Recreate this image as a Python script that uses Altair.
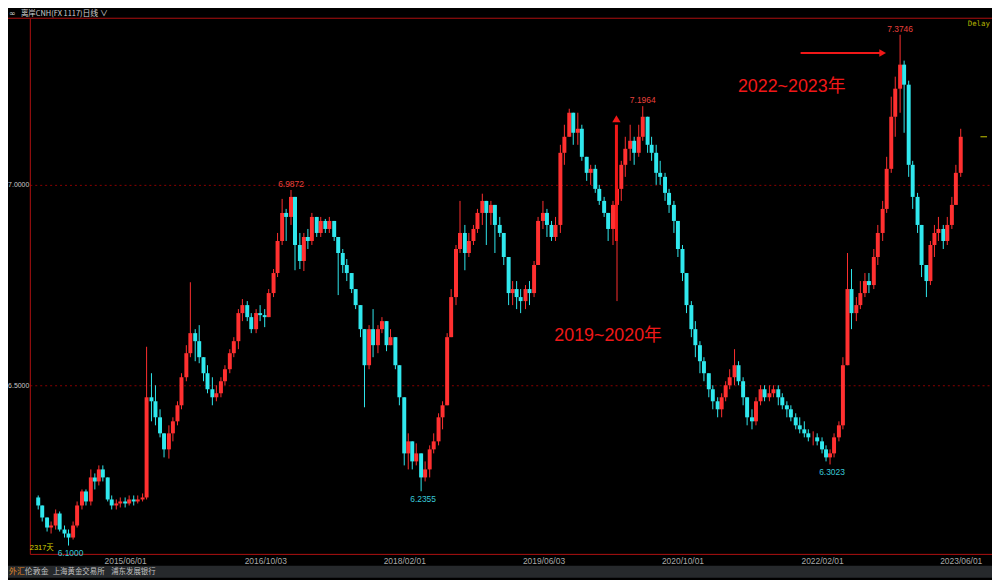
import altair as alt
import pandas as pd

# ---------------- data (half-month candles) ----------------
start_date = "2014-08-01"
first_open = 6.22

close = [6.20, 6.17, 6.145, 6.15, 6.18, 6.14, 6.13, 6.12, 6.15, 6.20,
         6.235, 6.21, 6.27, 6.26, 6.29, 6.27, 6.215, 6.20, 6.205, 6.21,
         6.205, 6.215, 6.21, 6.215, 6.22, 6.47, 6.46, 6.42, 6.38, 6.34,
         6.38, 6.41, 6.45, 6.52, 6.58, 6.63, 6.61, 6.57, 6.53, 6.49,
         6.47, 6.48, 6.51, 6.54, 6.58, 6.61, 6.68, 6.70, 6.67, 6.64,
         6.68, 6.675, 6.67, 6.73, 6.78, 6.86, 6.93, 6.92, 6.97, 6.85,
         6.81, 6.87, 6.86, 6.92, 6.88, 6.91, 6.89, 6.91, 6.87, 6.83,
         6.80, 6.78, 6.74, 6.70, 6.64, 6.55, 6.64, 6.60, 6.64, 6.66,
         6.60, 6.62, 6.55, 6.47, 6.33, 6.36, 6.31, 6.33, 6.27, 6.29,
         6.34, 6.36, 6.42, 6.45, 6.62, 6.72, 6.84, 6.88, 6.83, 6.86,
         6.89, 6.93, 6.96, 6.93, 6.95, 6.90, 6.88, 6.82, 6.73, 6.74,
         6.72, 6.71, 6.74, 6.73, 6.80, 6.91, 6.93, 6.90, 6.87, 6.90,
         7.08, 7.12, 7.18, 7.13, 7.14, 7.07, 7.03, 7.04, 6.99, 6.96,
         6.93, 6.89, 6.95, 6.99, 7.05, 7.09, 7.11, 7.08, 7.12, 7.17,
         7.10, 7.08, 7.03, 7.02, 6.98, 6.95, 6.91, 6.84, 6.78, 6.70,
         6.64, 6.60, 6.56, 6.53, 6.49, 6.46, 6.44, 6.47, 6.50, 6.52,
         6.55, 6.51, 6.47, 6.42, 6.41, 6.46, 6.49, 6.47, 6.48, 6.49,
         6.47, 6.45, 6.44, 6.42, 6.40, 6.39, 6.38, 6.37, 6.37, 6.36,
         6.34, 6.32, 6.33, 6.37, 6.40, 6.55, 6.74, 6.68, 6.70, 6.73,
         6.76, 6.75, 6.82, 6.88, 6.94, 7.04, 7.17, 7.24, 7.30, 7.25,
         7.05, 6.97, 6.90, 6.80, 6.76, 6.85, 6.88, 6.89, 6.86, 6.90,
         6.95, 7.03, 7.12]

high = [6.225, 6.20, 6.17, 6.16, 6.19, 6.185, 6.15, 6.14, 6.16, 6.21,
        6.24, 6.24, 6.29, 6.28, 6.30, 6.30, 6.27, 6.225, 6.215, 6.22,
        6.22, 6.225, 6.225, 6.225, 6.23, 6.596, 6.53, 6.50, 6.44, 6.38,
        6.40, 6.42, 6.46, 6.53, 6.60, 6.757, 6.64, 6.65, 6.57, 6.55,
        6.52, 6.50, 6.52, 6.55, 6.59, 6.62, 6.69, 6.715, 6.71, 6.68,
        6.69, 6.70, 6.69, 6.74, 6.79, 6.88, 6.965, 6.94, 6.9872, 6.97,
        6.88, 6.88, 6.89, 6.93, 6.92, 6.92, 6.915, 6.92, 6.91, 6.87,
        6.84, 6.815, 6.78, 6.74, 6.70, 6.64, 6.65, 6.69, 6.65, 6.67,
        6.66, 6.64, 6.62, 6.55, 6.47, 6.38, 6.36, 6.355, 6.33, 6.31,
        6.35, 6.38, 6.43, 6.46, 6.63, 6.74, 6.85, 6.96, 6.90, 6.88,
        6.90, 6.94, 6.978, 6.96, 6.96, 6.95, 6.92, 6.88, 6.82, 6.76,
        6.76, 6.74, 6.75, 6.76, 6.81, 6.92, 6.96, 6.94, 6.91, 6.92,
        7.10, 7.15, 7.19, 7.17, 7.18, 7.15, 7.07, 7.05, 7.05, 7.00,
        6.97, 6.93, 6.96, 7.00, 7.06, 7.12, 7.15, 7.12, 7.15, 7.1964,
        7.15, 7.12, 7.10, 7.06, 7.03, 6.99, 6.96, 6.90, 6.85, 6.78,
        6.71, 6.66, 6.61, 6.57, 6.53, 6.50, 6.47, 6.48, 6.51, 6.54,
        6.59, 6.56, 6.52, 6.47, 6.44, 6.47, 6.50, 6.50, 6.50, 6.50,
        6.50, 6.48, 6.46, 6.45, 6.43, 6.42, 6.41, 6.39, 6.385, 6.38,
        6.37, 6.35, 6.34, 6.38, 6.41, 6.57, 6.83, 6.79, 6.72, 6.76,
        6.78, 6.78, 6.84, 6.90, 6.96, 7.07, 7.22, 7.27, 7.3746, 7.31,
        7.26, 7.06, 6.98, 6.90, 6.80, 6.86, 6.90, 6.92, 6.90, 6.92,
        6.97, 7.05, 7.14]

low = [6.19, 6.16, 6.135, 6.13, 6.14, 6.135, 6.12, 6.10, 6.115, 6.145,
       6.19, 6.20, 6.20, 6.24, 6.25, 6.26, 6.21, 6.19, 6.19, 6.195,
       6.195, 6.20, 6.20, 6.205, 6.21, 6.215, 6.41, 6.40, 6.37, 6.32,
       6.317, 6.36, 6.40, 6.44, 6.51, 6.57, 6.56, 6.555, 6.51, 6.48,
       6.45, 6.46, 6.47, 6.50, 6.53, 6.57, 6.59, 6.66, 6.66, 6.63,
       6.63, 6.66, 6.645, 6.67, 6.72, 6.77, 6.85, 6.86, 6.90, 6.787,
       6.79, 6.785, 6.84, 6.85, 6.87, 6.87, 6.88, 6.88, 6.86, 6.725,
       6.78, 6.76, 6.73, 6.69, 6.62, 6.445, 6.54, 6.57, 6.58, 6.63,
       6.585, 6.60, 6.54, 6.45, 6.30, 6.29, 6.29, 6.30, 6.2355, 6.26,
       6.27, 6.33, 6.35, 6.39, 6.45, 6.62, 6.70, 6.83, 6.787, 6.82,
       6.85, 6.88, 6.90, 6.85, 6.90, 6.83, 6.87, 6.80, 6.70, 6.70,
       6.69, 6.68, 6.69, 6.70, 6.72, 6.80, 6.89, 6.87, 6.86, 6.86,
       6.88, 7.05, 7.12, 7.10, 7.10, 7.06, 7.01, 7.00, 6.98, 6.95,
       6.92, 6.86, 6.85, 6.71, 6.96, 7.02, 7.06, 7.05, 7.07, 7.11,
       7.08, 7.06, 7.00, 7.00, 6.96, 6.93, 6.88, 6.82, 6.76, 6.68,
       6.62, 6.57, 6.53, 6.51, 6.47, 6.44, 6.42, 6.42, 6.46, 6.49,
       6.50, 6.50, 6.45, 6.40, 6.39, 6.40, 6.45, 6.46, 6.46, 6.47,
       6.45, 6.44, 6.42, 6.41, 6.39, 6.38, 6.37, 6.36, 6.35, 6.35,
       6.33, 6.31, 6.3023, 6.32, 6.36, 6.39, 6.55, 6.64, 6.66, 6.69,
       6.72, 6.73, 6.74, 6.80, 6.86, 6.93, 7.03, 7.12, 7.18, 7.13,
       7.02, 6.94, 6.88, 6.77, 6.72, 6.75, 6.82, 6.86, 6.84, 6.85,
       6.89, 6.95, 7.02]

tick_dates = [(2015, 6, 1), (2016, 10, 3), (2018, 2, 1), (2019, 6, 3),
              (2020, 10, 1), (2022, 2, 1), (2023, 6, 1)]
y_ticks = [6.5, 7.0]
x_domain = [(2014, 7, 20), (2023, 9, 1)]
y_domain = [6.0792, 7.4158]

peak_idx = [58, 139, 198]
trough_idx = [7, 88, 182]

up_arrow_date = "2020-02-13"
up_arrow_from = 6.86
up_arrow_to = 7.15
up_arrow_tip = 7.165

right_arrow_from = "2021-11-18"
right_arrow_to = "2022-09-01"
right_arrow_y = 7.329

notes_text = ["2019~2020年", "2022~2023年"]
notes_date = ["2020-01-15", "2021-10-18"]
notes_y = [6.624, 7.245]

price_mark_dates = ["2023-08-09", "2023-09-01"]

# ---------------- colours ----------------
RED = "#ff3030"
CYAN = "#30e8ee"
FRAME = "#b01010"
ANNOT = "#f01818"
YELLOW = "#d4d400"

# ---------------- tables ----------------
dates = pd.date_range(start_date, periods=len(close), freq="SMS").strftime("%Y-%m-%d").tolist()
opens = [first_open] + close[:-1]
df = pd.DataFrame({"date": dates, "open": opens, "close": close, "high": high, "low": low})
df["high"] = df[["high", "open", "close"]].max(axis=1)
df["low"] = df[["low", "open", "close"]].min(axis=1)
df["dir"] = ["up" if c >= o else "down" for o, c in zip(opens, close)]

peaks = pd.DataFrame({"date": [dates[i] for i in peak_idx], "value": [high[i] for i in peak_idx]})
peaks["label"] = [f"{v:.4f}" for v in peaks["value"]]
troughs = pd.DataFrame({"date": [dates[i] for i in trough_idx], "value": [low[i] for i in trough_idx]})
troughs["label"] = [f"{v:.4f}" for v in troughs["value"]]

def dt(t):
    return alt.DateTime(year=t[0], month=t[1], date=t[2], utc=True)

xscale = alt.Scale(type="utc", domain=[dt(x_domain[0]), dt(x_domain[1])], nice=False)
yscale = alt.Scale(domain=y_domain, nice=False, zero=False)
xaxis = alt.Axis(values=[dt(t) for t in tick_dates], format="%Y/%m/%d", title=None,
                 grid=False, ticks=False, domainColor=FRAME, labelColor="#a8a8a8",
                 labelFont="Liberation Sans", labelFontSize=8.5, labelPadding=3,
                 labelOverlap=False, labelFlush=False)
yaxis = alt.Axis(values=y_ticks, format=".4f", title=None, grid=True, gridColor="#8a0000",
                 gridDash=[2, 3], gridWidth=1, ticks=False, domainColor=FRAME,
                 labelColor="#c8c8c8", labelFont="Liberation Sans", labelFontSize=7,
                 labelPadding=1)

def X(field, **kw):
    return alt.X(field, type="temporal", scale=xscale, axis=xaxis, title=None, **kw)

def Y(field, **kw):
    return alt.Y(field, type="quantitative", scale=yscale, axis=yaxis, title=None, **kw)

color = alt.Color("dir:N", scale=alt.Scale(domain=["up", "down"], range=[RED, CYAN]), legend=None)

base = alt.Chart(df)
wicks = base.mark_rule(strokeWidth=1).encode(x=X("date"), y=Y("low"), y2="high", color=color)
bodies = base.mark_bar(width=4).encode(x=X("date"), y=Y("open"), y2="close", color=color)

peak_lbl = alt.Chart(peaks).mark_text(color="#e8403c", font="Liberation Sans", fontSize=8.5,
                                      baseline="bottom", dy=-1).encode(
    x=X("date"), y=Y("value"), text="label:N")
trough_lbl = alt.Chart(troughs).mark_text(color="#38c8d8", font="Liberation Sans", fontSize=8.5,
                                          baseline="middle", dy=8, dx=2).encode(
    x=X("date"), y=Y("value"), text="label:N")

va = pd.DataFrame({"date": [up_arrow_date], "y1": [up_arrow_from], "y2": [up_arrow_to], "tip": [up_arrow_tip]})
v_shaft = alt.Chart(va).mark_rule(color=ANNOT, strokeWidth=3).encode(x=X("date"), y=Y("y1"), y2="y2")
v_head = alt.Chart(va).mark_point(shape="triangle-up", filled=True, size=70, color=ANNOT,
                                  opacity=1).encode(x=X("date"), y=Y("tip"))

ha = pd.DataFrame({"d1": [right_arrow_from], "d2": [right_arrow_to], "y": [right_arrow_y]})
h_shaft = alt.Chart(ha).mark_rule(color=ANNOT, strokeWidth=2).encode(x=X("d1"), x2="d2", y=Y("y"))
h_head = alt.Chart(ha).mark_point(shape="triangle-right", filled=True, size=60, color=ANNOT,
                                  opacity=1).encode(x=X("d2"), y=Y("y"))

notes = pd.DataFrame({"date": notes_date, "y": notes_y, "t": notes_text})
note_txt = alt.Chart(notes).mark_text(color=ANNOT, fontSize=18,
                                      font="Liberation Sans, Noto Sans CJK SC").encode(
    x=X("date"), y=Y("y"), text="t:N")

pm = pd.DataFrame({"d1": [price_mark_dates[0]], "d2": [price_mark_dates[1]], "y": [close[-1]]})
price_mark = alt.Chart(pm).mark_rule(color="#c8c800", strokeWidth=1).encode(x=X("d1"), x2="d2", y=Y("y"))

one = pd.DataFrame({"a": [0]})
top_line = alt.Chart(one).mark_rule(color=FRAME, strokeWidth=1).encode(
    x=alt.value(-22), x2=alt.value(970), y=alt.value(0))
footer_bg = alt.Chart(one).mark_rect(color="#26292c").encode(
    x=alt.value(-22), x2=alt.value(970), y=alt.value(552), y2=alt.value(564))

def label(text, x, y, col, size, align="left", font="Noto Sans CJK SC", baseline="middle"):
    return alt.Chart(one).mark_text(text=text, color=col, fontSize=size, align=align,
                                    baseline=baseline, font=font).encode(
        x=alt.value(x), y=alt.value(y))

texts = [
    label("∞", -21, -4, "#c8c8c8", 8, font="DejaVu Sans"),
    label("离岸CNH(FX 1117)", -9, -4, "#d0d0d0", 7.5),
    label("日线 ∨", 53, -4, "#d0d0d0", 8),
    label("Delay", 968, 6, "#b0b000", 7.5, align="right", font="DejaVu Sans Mono"),
    label("2317天", 0, 534, YELLOW, 7.5, font="Liberation Sans, Noto Sans CJK SC"),
    label("外汇", -21, 558, "#e08a2a", 8),
    label("伦敦金", -5, 558, "#c0c0c0", 8),
    label("上海黄金交易所", 23, 558, "#c0c0c0", 7.5),
    label("浦东发展银行", 82, 558, "#c0c0c0", 7.5),
]

chart = alt.layer(
    wicks, bodies, v_shaft, v_head, h_shaft, h_head, note_txt, peak_lbl, trough_lbl,
    price_mark, top_line, footer_bg, *texts
).properties(
    width=970, height=540,
    padding={"left": 22, "top": 8, "right": 0, "bottom": 24},
    autosize=alt.AutoSizeParams(type="none"),
    background="#000000",
).configure_view(stroke=None)

chart.save("out.html", embed_options={"renderer": "svg", "actions": False})
